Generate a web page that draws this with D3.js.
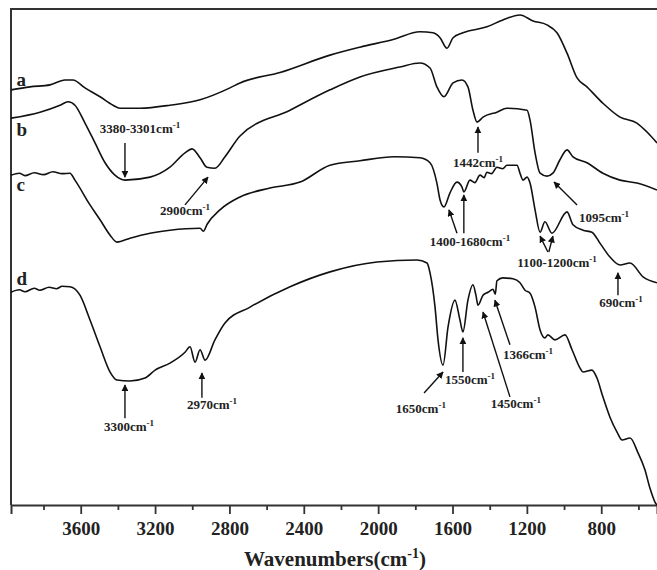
<!DOCTYPE html>
<html>
<head>
<meta charset="utf-8">
<script src="https://cdn.jsdelivr.net/npm/d3@7"></script>
<style>
  body { margin: 0; background: #fff; }
  svg { display: block; }
  text { font-family: "Times New Roman", "Liberation Serif", serif; font-weight: bold; fill: #222; }
</style>
</head>
<body>
<svg width="657" height="570"></svg>
<script>
// FTIR spectra a-d, [wavenumber cm-1, transmittance a.u.]
const spectrumA = [
  [3975, 83.7], [3873, 84.3], [3765, 84.7], [3685, 85.7], [3642, 85.7], [3577, 84.1],
  [3496, 82.3], [3426, 80.6], [3389, 80.0], [3281, 80.0], [3120, 80.6], [2958, 81.7],
  [2797, 84.1], [2743, 85.1], [2528, 87.2], [2259, 90.7], [2098, 92.3], [1915, 93.9],
  [1775, 95.4], [1705, 95.2], [1667, 94.2], [1630, 92.1], [1597, 94.2], [1544, 95.2],
  [1415, 96.4], [1329, 97.8], [1237, 98.8], [1167, 97.6], [1092, 96.8], [1038, 95.2],
  [984, 91.1], [930, 86.1], [877, 84.3], [791, 81.0], [699, 78.2], [608, 77.0],
  [554, 75.2], [500, 73.0]
];
const spectrumB = [
  [3975, 78.0], [3819, 79.2], [3711, 80.6], [3668, 81.3], [3631, 80.6], [3577, 77.0],
  [3523, 73.0], [3469, 69.0], [3416, 66.5], [3362, 65.5], [3227, 66.1], [3120, 68.1],
  [3039, 71.0], [3001, 71.8], [2958, 70.0], [2921, 68.1], [2878, 67.9], [2824, 70.2],
  [2743, 74.4], [2474, 79.6], [2259, 83.7], [2098, 86.3], [1883, 88.3], [1775, 89.1],
  [1721, 88.1], [1684, 84.3], [1646, 82.3], [1597, 85.1], [1549, 85.7], [1517, 84.3],
  [1490, 79.6], [1468, 77.2], [1436, 78.2], [1361, 79.2], [1307, 80.0], [1199, 79.6],
  [1183, 77.6], [1156, 71.0], [1129, 66.9], [1092, 66.3], [1060, 66.9], [1022, 69.6],
  [984, 71.6], [952, 70.2], [877, 69.0], [791, 66.9], [699, 65.5], [608, 64.9], [500, 63.5]
];
const spectrumC = [
  [3975, 66.5], [3930, 66.9], [3900, 66.4], [3850, 67.0], [3800, 66.6], [3750, 67.2],
  [3700, 66.8], [3658, 66.9], [3631, 65.5], [3550, 60.5], [3496, 57.5], [3442, 54.4],
  [3405, 53.0], [3335, 53.8], [3227, 54.8], [3120, 55.4], [2958, 55.8], [2940, 55.2],
  [2920, 56.6], [2851, 59.5], [2743, 62.1], [2582, 63.9], [2420, 65.1], [2259, 68.5],
  [2098, 69.4], [1915, 70.2], [1775, 70.0], [1721, 69.0], [1684, 64.9], [1667, 61.5],
  [1646, 60.1], [1614, 62.9], [1576, 65.1], [1549, 64.1], [1539, 63.1], [1506, 65.5],
  [1480, 65.0], [1452, 66.5], [1430, 66.0], [1415, 67.1], [1390, 66.8], [1361, 68.1],
  [1330, 67.8], [1307, 68.5], [1253, 68.5], [1237, 66.9], [1221, 65.5], [1199, 66.1],
  [1183, 64.9], [1156, 59.5], [1129, 55.0], [1103, 57.1], [1065, 54.8], [984, 59.1],
  [952, 56.5], [898, 55.4], [850, 55.0], [807, 52.8], [753, 50.0], [699, 48.4],
  [645, 48.8], [575, 46.0], [500, 44.8]
];
const spectrumD = [
  [3975, 42.9], [3930, 43.4], [3900, 43.0], [3850, 43.7], [3820, 43.3], [3770, 43.9],
  [3730, 43.6], [3700, 44.1], [3658, 44.0], [3604, 42.3], [3550, 37.3], [3496, 31.9],
  [3442, 26.8], [3405, 25.2], [3335, 25.0], [3254, 25.6], [3200, 27.2], [3120, 28.6],
  [3039, 30.8], [3012, 31.9], [2985, 28.8], [2958, 31.3], [2931, 29.2], [2878, 33.3],
  [2824, 36.7], [2689, 39.9], [2474, 44.0], [2259, 47.0], [2006, 49.0], [1791, 49.4],
  [1737, 48.8], [1721, 46.8], [1694, 39.9], [1678, 33.3], [1651, 28.2], [1624, 35.9],
  [1587, 41.3], [1560, 37.3], [1544, 34.9], [1517, 41.3], [1490, 44.4], [1474, 42.3],
  [1463, 40.3], [1436, 42.3], [1409, 42.9], [1382, 43.5], [1370, 42.5], [1361, 45.2],
  [1329, 45.8], [1275, 45.6], [1237, 44.8], [1210, 43.3], [1183, 42.7], [1156, 39.9],
  [1129, 35.3], [1103, 33.7], [1087, 34.3], [1049, 33.3], [995, 34.3], [957, 31.3],
  [914, 27.6], [898, 26.8], [850, 27.2], [823, 25.6], [791, 21.8], [753, 17.7],
  [715, 14.7], [688, 13.1], [645, 13.5], [602, 10.5], [565, 7.1], [538, 3.4],
  [511, 0.6], [500, 0]
];
const spectra = [spectrumA, spectrumB, spectrumC, spectrumD];
const curveNames = ["a", "b", "c", "d"];
const curveNameY = [84.5, 74.4, 63.3, 44.4];

const majorTicks = [3600, 3200, 2800, 2400, 2000, 1600, 1200, 800];
const minorTicks = [3800, 3400, 3000, 2600, 2200, 1800, 1400, 1000, 600];

// peak labels: text, anchor wavenumber, anchor value
const peakLabels = [
  ["3380-3301", 3281, 75.0], ["2900", 3039, 58.5], ["1442", 1463, 68.1],
  ["1095", 785, 57.1], ["1400-1680", 1506, 52.2], ["1100-1200", 1038, 48.0],
  ["690", 694, 39.9], ["3300", 3340, 14.9], ["2970", 2894, 19.4],
  ["1650", 1770, 18.5], ["1550", 1506, 24.4], ["1450", 1259, 19.6], ["1366", 1194, 29.4]
];
// arrows: from [w, v] to [w, v] (head at the end)
const peakArrows = [
  [3362, 73.0, 3362, 66.1], [3039, 60.5, 2915, 66.1], [1463, 71.0, 1463, 76.2],
  [930, 60.5, 1054, 65.1], [1576, 54.8, 1619, 59.5], [1539, 54.8, 1539, 62.5],
  [1087, 51.0, 1129, 54.2], [1082, 51.0, 1060, 54.2], [710, 42.3, 710, 46.8],
  [3362, 17.5, 3362, 24.2], [2948, 21.6, 2948, 26.6], [1753, 22.6, 1651, 26.8],
  [1544, 26.8, 1544, 33.7], [1291, 21.8, 1436, 38.9], [1291, 32.3, 1372, 41.3]
];

const svg = d3.select("svg");
const x = d3.scaleLinear().domain([3975, 500]).range([11, 657]);
const y = d3.scaleLinear().domain([0, 100]).range([505, 9]);

svg.append("defs").append("marker")
  .attr("id", "head")
  .attr("viewBox", "0 0 10 10")
  .attr("refX", 9).attr("refY", 5)
  .attr("markerWidth", 7).attr("markerHeight", 7)
  .attr("markerUnits", "userSpaceOnUse")
  .attr("orient", "auto")
  .append("path").attr("d", "M0,0 L10,5 L0,10 Z").attr("fill", "#111");

// frame (no right border visible)
svg.append("path")
  .attr("d", `M${x(500) + 2},${y(100)} H${x(3975)} V${y(0)}`)
  .attr("fill", "none").attr("stroke", "#333").attr("stroke-width", 2);

const xAxis = svg.append("g").attr("transform", `translate(0,${y(0)})`)
  .call(d3.axisBottom(x).tickValues(majorTicks).tickSize(9).tickPadding(8).tickFormat(d3.format("d")));
xAxis.select(".domain").attr("stroke", "#333").attr("stroke-width", 2);
xAxis.selectAll(".tick line").attr("stroke", "#333").attr("stroke-width", 1.8);
xAxis.selectAll(".tick text").attr("font-size", 19).attr("fill", "#222")
  .attr("font-family", "'Times New Roman', 'Liberation Serif', serif").attr("font-weight", "bold");

svg.append("g").attr("transform", `translate(0,${y(0)})`)
  .call(d3.axisBottom(x).tickValues(minorTicks).tickSize(5).tickFormat(""))
  .call(g => g.select(".domain").remove())
  .selectAll(".tick line").attr("stroke", "#333").attr("stroke-width", 1.8);

const title = svg.append("text")
  .attr("x", 335).attr("y", 566)
  .attr("text-anchor", "middle")
  .attr("font-size", 21);
title.append("tspan").text("Wavenumbers(cm");
title.append("tspan").attr("dy", -8).attr("font-size", 14).text("-1");
title.append("tspan").attr("dy", 8).text(")");

const line = d3.line()
  .x(d => x(d[0]))
  .y(d => y(d[1]))
  .curve(d3.curveMonotoneX);

svg.selectAll(".spec")
  .data(spectra)
  .enter()
  .append("path")
  .attr("class", "spec")
  .attr("d", line)
  .attr("fill", "none")
  .attr("stroke", "#111")
  .attr("stroke-width", 1.6)
  .attr("stroke-linejoin", "round");

svg.selectAll(".name")
  .data(curveNames)
  .enter()
  .append("text")
  .attr("class", "name")
  .attr("x", x(3945))
  .attr("y", (d, i) => y(curveNameY[i]))
  .attr("font-size", 19)
  .text(d => d);

svg.selectAll(".arrow")
  .data(peakArrows)
  .enter()
  .append("line")
  .attr("class", "arrow")
  .attr("x1", d => x(d[0])).attr("y1", d => y(d[1]))
  .attr("x2", d => x(d[2])).attr("y2", d => y(d[3]))
  .attr("stroke", "#111").attr("stroke-width", 1.4)
  .attr("marker-end", "url(#head)");

const labels = svg.selectAll(".peak")
  .data(peakLabels)
  .enter()
  .append("text")
  .attr("class", "peak")
  .attr("x", d => x(d[1]))
  .attr("y", d => y(d[2]))
  .attr("text-anchor", "middle")
  .attr("font-size", 13);
labels.append("tspan").text(d => d[0] + "cm");
labels.append("tspan").attr("dy", -5).attr("font-size", 9).text("-1");
</script>
</body>
</html>
